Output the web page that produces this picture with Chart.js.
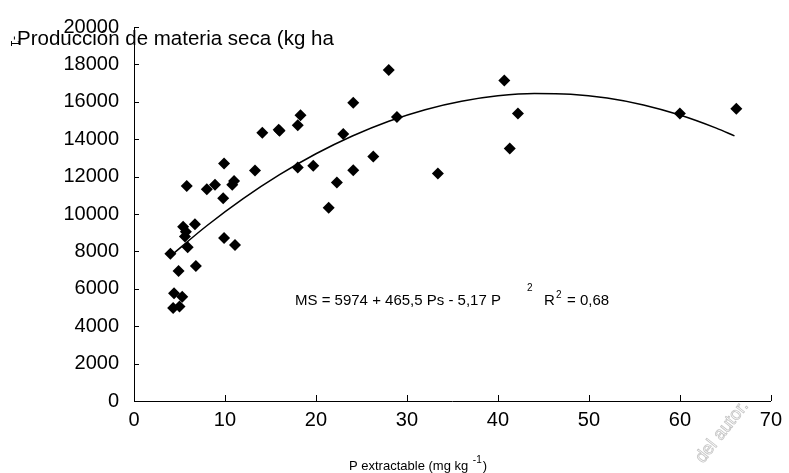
<!DOCTYPE html>
<html>
<head>
<meta charset="utf-8">
<script src="https://cdn.jsdelivr.net/npm/chart.js@4/dist/chart.umd.min.js"></script>
<style>
  html, body { margin: 0; padding: 0; background: #fff; }
  #wrap { width: 789px; height: 473px; }
</style>
</head>
<body>
<div id="wrap"><canvas id="chart" width="789" height="473"></canvas></div>
<script>
// observed points (P extractable, materia seca)
var pX = [5.8, 6.7, 8.0, 8.9, 9.9, 9.8, 10.8, 11.0, 13.3, 14.1, 15.9, 16.0, 18.0, 18.3, 18.0, 19.7,
  21.4, 22.3, 23.0, 24.1, 24.1, 26.3, 28.0, 28.9, 33.4, 40.7, 42.2, 41.3, 60.0, 66.2,
  5.4, 5.7, 5.6, 5.9, 4.0, 9.9, 11.1, 4.9, 6.8, 4.4, 5.3, 4.3, 5.0];
var pY = [11500, 9450, 11330, 11570, 12700, 10840, 11570, 11760, 12330, 14350, 14500, 14450, 14750, 15280, 12490, 12580,
  10330, 11680, 14280, 15950, 12340, 13080, 17700, 15190, 12170, 17140, 15370, 13500, 15370, 15630,
  9320, 9050, 8800, 8220, 7870, 8710, 8340, 6950, 7220, 5760, 5580, 4970, 5060];

// fitted curve
var fitX = [4, 8, 12, 16, 20, 24, 28, 32, 36, 40, 44, 48, 52, 56, 60, 64, 66];
var fitY = [7750, 9370, 10820, 12100, 13220, 14170, 14960, 15580, 16030, 16320, 16450, 16410, 16200, 15830, 15290, 14590, 14180];

var xTicks = [0, 10, 20, 30, 40, 50, 60, 70];
var yTicks = [0, 2000, 4000, 6000, 8000, 10000, 12000, 14000, 16000, 18000, 20000];

var FONT = '"Liberation Sans", Arial, sans-serif';

function toPts(xs, ys) {
  var out = [];
  for (var i = 0; i < xs.length; i++) out.push({ x: xs[i], y: ys[i] });
  return out;
}

var decor = {
  id: 'decor',
  afterDraw: function (chart) {
    var ctx = chart.ctx;
    var xs = chart.scales.x, ys = chart.scales.y;
    var area = chart.chartArea;
    ctx.save();
    ctx.strokeStyle = '#000';
    ctx.lineWidth = 1;
    // inner tick marks
    ctx.beginPath();
    for (var i = 0; i < xTicks.length; i++) {
      var px = Math.round(xs.getPixelForValue(xTicks[i])) + 0.5;
      ctx.moveTo(px, area.bottom);
      ctx.lineTo(px, area.bottom - 6);
    }
    for (var j = 0; j < yTicks.length; j++) {
      var py = Math.round(ys.getPixelForValue(yTicks[j])) + 0.5;
      ctx.moveTo(area.left, py);
      ctx.lineTo(area.left + 5, py);
    }
    ctx.stroke();

    ctx.fillStyle = '#000';
    ctx.textBaseline = 'middle';
    ctx.textAlign = 'left';

    // y title (horizontal, top-left)
    ctx.font = '20.5px ' + FONT;
    ctx.fillText('Producción de materia seca (kg ha', 17, 39);
    ctx.save();
    ctx.translate(14, 42);
    ctx.rotate(Math.PI / 2);
    ctx.font = '12px ' + FONT;
    ctx.fillText('-1', -6, 0);
    ctx.restore();

    // equation
    ctx.font = '15px ' + FONT;
    ctx.fillText('MS = 5974 + 465,5 Ps - 5,17 P', 295, 301);
    ctx.font = '10px ' + FONT;
    ctx.fillText('2', 527, 288);
    ctx.font = '15px ' + FONT;
    ctx.fillText('R', 544, 301);
    ctx.font = '10px ' + FONT;
    ctx.fillText('2', 556, 295);
    ctx.font = '15px ' + FONT;
    ctx.fillText('= 0,68', 567, 301);

    // x title
    ctx.font = '13px ' + FONT;
    var t1 = 'P extractable (mg kg ';
    ctx.fillText(t1, 349, 466);
    var w1 = ctx.measureText(t1).width;
    ctx.font = '10px ' + FONT;
    ctx.fillText('-1', 349 + w1 + 1, 460);
    var w2 = ctx.measureText('-1').width;
    ctx.font = '13px ' + FONT;
    ctx.fillText(')', 349 + w1 + w2 + 2, 466);

    // watermark
    ctx.save();
    ctx.translate(722, 432);
    ctx.rotate(-0.9);
    ctx.font = '18px ' + FONT;
    ctx.strokeStyle = '#c4c4c4';
    ctx.lineWidth = 0.8;
    ctx.textAlign = 'center';
    ctx.strokeText('del autor.', 0, 0);
    ctx.restore();
    ctx.restore();
  }
};

new Chart(document.getElementById('chart'), {
  type: 'scatter',
  data: {
    datasets: [{
      label: 'datos',
      data: toPts(pX, pY),
      pointStyle: 'rectRot',
      pointRadius: 6,
      pointBackgroundColor: '#000',
      pointBorderColor: '#000',
      pointBorderWidth: 0,
      showLine: false,
      order: 1
    }, {
      label: 'ajuste',
      data: toPts(fitX, fitY),
      showLine: true,
      borderColor: '#000',
      borderWidth: 1.5,
      pointRadius: 0,
      cubicInterpolationMode: 'monotone',
      fill: false,
      order: 2
    }]
  },
  options: {
    responsive: false,
    animation: false,
    devicePixelRatio: 1,
    layout: { padding: { left: 0, right: 9, top: 20, bottom: 0 } },
    plugins: { legend: { display: false }, tooltip: { enabled: false } },
    scales: {
      x: {
        type: 'linear',
        min: 0, max: 70,
        afterFit: function (s) { s.height = 72; },
        afterBuildTicks: function (s) { s.ticks = xTicks.map(function (v) { return { value: v }; }); },
        grid: { display: true, drawOnChartArea: false, drawTicks: false },
        border: { display: true, color: '#000', width: 1 },
        ticks: { color: '#000', padding: 7, font: { family: FONT, size: 20 },
          callback: function (v) { return String(v); } }
      },
      y: {
        min: 0, max: 20000,
        afterFit: function (s) { s.width = 134; },
        afterBuildTicks: function (s) { s.ticks = yTicks.map(function (v) { return { value: v }; }); },
        grid: { display: true, drawOnChartArea: false, drawTicks: false },
        border: { display: true, color: '#000', width: 1 },
        ticks: { color: '#000', padding: 15, font: { family: FONT, size: 20 },
          callback: function (v) { return String(v); } }
      }
    }
  },
  plugins: [decor]
});
</script>
</body>
</html>
